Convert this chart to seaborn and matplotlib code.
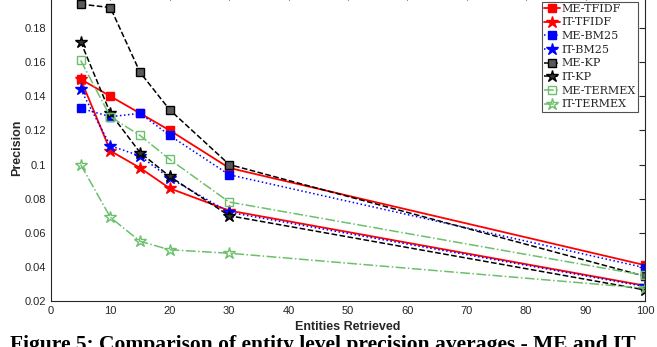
import matplotlib
matplotlib.use("Agg")
import matplotlib.pyplot as plt
import seaborn as sns
import pandas as pd

# Entities retrieved (x) and precision averages per method
entities = [5, 10, 15, 20, 30, 100]

me_tfidf = [0.150, 0.140, 0.130, 0.120, 0.098, 0.041]
it_tfidf = [0.150, 0.108, 0.098, 0.086, 0.073, 0.029]
me_bm25 = [0.133, 0.128, 0.130, 0.117, 0.094, 0.0395]
it_bm25 = [0.144, 0.111, 0.105, 0.092, 0.072, 0.0285]
me_kp = [0.194, 0.192, 0.154, 0.132, 0.100, 0.0345]
it_kp = [0.172, 0.130, 0.107, 0.093, 0.070, 0.0265]
me_termex = [0.161, 0.128, 0.117, 0.103, 0.078, 0.035]
it_termex = [0.100, 0.069, 0.055, 0.050, 0.048, 0.0275]

series = {
    'ME-TFIDF': me_tfidf,
    'IT-TFIDF': it_tfidf,
    'ME-BM25': me_bm25,
    'IT-BM25': it_bm25,
    'ME-KP': me_kp,
    'IT-KP': it_kp,
    'ME-TERMEX': me_termex,
    'IT-TERMEX': it_termex,
}

y_ticks = [0.02, 0.04, 0.06, 0.08, 0.1, 0.12, 0.14, 0.16, 0.18]
y_ticklabels = ['0.02', '0.04', '0.06', '0.08', '0.1', '0.12', '0.14', '0.16', '0.18']

green = '#6cc06c'
# style per series: color, linestyle, marker, marker face color
styles = {
    'ME-TFIDF': ('red', '-', 's', 'red'),
    'IT-TFIDF': ('red', '-', '*', 'red'),
    'ME-BM25': ('blue', ':', 's', 'blue'),
    'IT-BM25': ('blue', ':', '*', 'blue'),
    'ME-KP': ('black', '--', 's', '#5a5a5a'),
    'IT-KP': ('black', '--', '*', '#333333'),
    'ME-TERMEX': (green, '-.', 's', 'none'),
    'IT-TERMEX': (green, '-.', '*', 'none'),
}

sns.set_style("white")
plt.rcParams['font.family'] = ['Liberation Sans', 'DejaVu Sans']

fig = plt.figure(figsize=(6.57, 3.47), dpi=100)
ax = fig.add_axes([0.0776, 0.1326, 0.904, 0.885])

for name, vals in series.items():
    color, ls, marker, mfc = styles[name]
    df = pd.DataFrame({'x': entities, 'y': vals})
    ms = 9 if marker == '*' else 5.5
    sns.lineplot(data=df, x='x', y='y', ax=ax, color=color, linestyle=ls,
                 marker=marker, markersize=ms, markerfacecolor=mfc,
                 markeredgecolor=color, markeredgewidth=1.0,
                 linewidth=1.3 if ls == '-' else 1.1, label=name)

ax.set_xlim(0, 100)
ax.set_ylim(0.02, 0.2)
ax.set_xticks(range(0, 101, 10))
ax.set_yticks(y_ticks)
ax.set_yticklabels(y_ticklabels)
ax.tick_params(direction='in', length=4, width=0.8, colors='#262626',
               labelsize=8, top=True, right=True, labelcolor='#262626')
for sp in ax.spines.values():
    sp.set_color('#262626')
    sp.set_linewidth(0.8)

ax.set_xlabel('Entities Retrieved', fontsize=9, fontweight='bold', labelpad=4)
ax.set_ylabel('Precision', fontsize=9, fontweight='bold', labelpad=1)

leg = ax.legend(loc='upper right', bbox_to_anchor=(0.989, 0.975),
                prop={'family': 'DejaVu Serif', 'size': 8}, frameon=True,
                fancybox=False, edgecolor='#262626', handlelength=1.4,
                handletextpad=0.2, borderpad=0.2, labelspacing=0.33,
                borderaxespad=0.0)
leg.get_frame().set_linewidth(0.8)

fig.text(0.015, -0.01,
         'Figure 5: Comparison of entity level precision averages - ME and IT',
         fontsize=15.5, fontweight='bold', family='Liberation Serif',
         ha='left', va='baseline', color='black')

fig.savefig('out.png', dpi=100)
